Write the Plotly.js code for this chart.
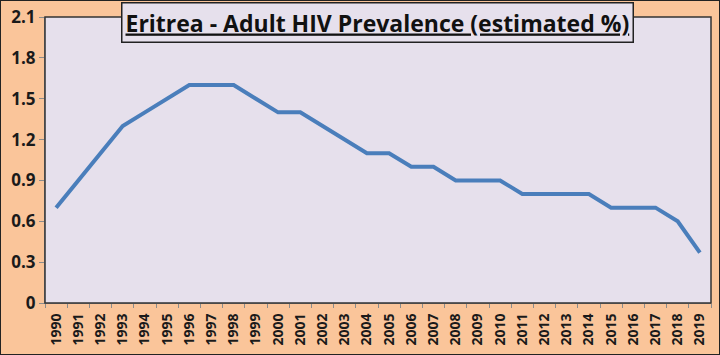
<!DOCTYPE html>
<html><head><meta charset="utf-8">
<script src="https://cdn.plot.ly/plotly-3.0.1.min.js"></script>
<style>html,body{margin:0;padding:0;background:#fac59a;}#chart{width:720px;height:355px;}</style>
</head><body><div id="chart"></div>
<script>
const years = ['1990','1991','1992','1993','1994','1995','1996','1997','1998','1999','2000','2001','2002','2003','2004','2005','2006','2007','2008','2009','2010','2011','2012','2013','2014','2015','2016','2017','2018','2019'];
const prevalence = [0.7,0.9,1.1,1.3,1.4,1.5,1.6,1.6,1.6,1.5,1.4,1.4,1.3,1.2,1.1,1.1,1.0,1.0,0.9,0.9,0.9,0.8,0.8,0.8,0.8,0.7,0.7,0.7,0.6,0.37];
const yTicks = [0,0.3,0.6,0.9,1.2,1.5,1.8,2.1];
const titleText = 'Eritrea - Adult HIV Prevalence (estimated %)';

const trace = {x: years, y: prevalence, type:'scatter', mode:'lines',
  line:{color:'#4a7ebb', width:4}, hoverinfo:'none'};

const layout = {
  width:720, height:355,
  margin:{l:45, r:9, t:17, b:52},
  paper_bgcolor:'#fac59a', plot_bgcolor:'#e6e0ec',
  showlegend:false,
  font:{family:'Open Sans, Arial, sans-serif', color:'#1a1a1a'},
  xaxis:{type:'category', tickangle:-90, showgrid:false, showline:true, linecolor:'#8c8c8c', linewidth:1,
    ticks:'outside', ticklen:4, tickcolor:'#8c8c8c', tickson:'boundaries', ticklabelstandoff:4,
    tickfont:{size:14, family:'Open Sans', weight:'bold', color:'#1a1a1a'},
    range:[-0.5, 29.5], zeroline:false, automargin:false},
  yaxis:{range:[0,2.1], tickvals:yTicks, ticktext:yTicks.map(v=>String(v)), showgrid:false, showline:true,
    linecolor:'#8c8c8c', linewidth:1, ticks:'outside', ticklen:5, tickcolor:'#8c8c8c', zeroline:false,
    tickfont:{size:17, family:'Open Sans', weight:'bold', color:'#1a1a1a'}, automargin:false},
  shapes:[
    {type:'rect', xref:'paper', yref:'paper', x0:0, x1:1, y0:0, y1:1, line:{color:'#333', width:1.5}, layer:'above'},
    {type:'rect', xref:'paper', yref:'paper', x0:-45/666, x1:1+9/666, y0:-52/286, y1:1+17/286, line:{color:'#222', width:2}, layer:'below'}
  ],
  annotations:[{text:'<b><u>'+titleText+'</u></b>', xref:'paper', yref:'paper', x:(377-45)/666, y:(303-22)/286,
    xanchor:'center', yanchor:'middle', showarrow:false, bgcolor:'#e6e0ec', bordercolor:'#222', borderwidth:1.5,
    borderpad:3, font:{size:23, family:'Open Sans, Arial, sans-serif', color:'#111'}}]
};
Plotly.newPlot('chart',[trace],layout,{staticPlot:true});
</script></body></html>
